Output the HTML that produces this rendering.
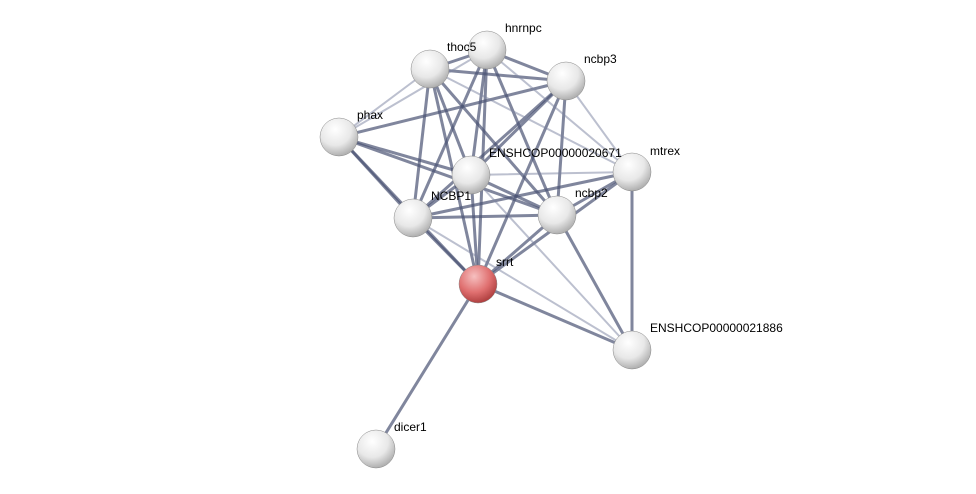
<!DOCTYPE html>
<html><head><meta charset="utf-8"><style>
html,body{margin:0;padding:0;background:#fff;}
svg{display:block;}
text{font-family:"Liberation Sans",sans-serif;font-size:12px;fill:#000;}
</style></head><body>
<svg width="976" height="494" viewBox="0 0 976 494" xmlns="http://www.w3.org/2000/svg">
<defs>
<radialGradient id="g" cx="40%" cy="30%" r="70%">
<stop offset="0" stop-color="#ffffff"/><stop offset="0.6" stop-color="#e8e8e8"/><stop offset="1" stop-color="#b0b0b0"/>
</radialGradient>
<radialGradient id="r" cx="40%" cy="30%" r="70%">
<stop offset="0" stop-color="#f6c0c0"/><stop offset="0.6" stop-color="#e07070"/><stop offset="1" stop-color="#b04040"/>
</radialGradient>
</defs>
<g stroke-linecap="round">
<g stroke="#4a5274" stroke-width="3" stroke-opacity="0.7">
<line x1="430" y1="69" x2="487" y2="50"/>
<line x1="430" y1="69" x2="566" y2="81"/>
<line x1="430" y1="69" x2="471" y2="175"/>
<line x1="430" y1="69" x2="413" y2="218"/>
<line x1="430" y1="69" x2="557" y2="215"/>
<line x1="430" y1="69" x2="478" y2="284"/>
<line x1="487" y1="50" x2="566" y2="81"/>
<line x1="487" y1="50" x2="471" y2="175"/>
<line x1="487" y1="50" x2="413" y2="218"/>
<line x1="487" y1="50" x2="557" y2="215"/>
<line x1="487" y1="50" x2="478" y2="284"/>
<line x1="566" y1="81" x2="471" y2="175"/>
<line x1="566" y1="81" x2="413" y2="218"/>
<line x1="566" y1="81" x2="557" y2="215"/>
<line x1="566" y1="81" x2="478" y2="284"/>
<line x1="566" y1="81" x2="339" y2="137"/>
<line x1="339" y1="137" x2="471" y2="175"/>
<line x1="339" y1="137" x2="413" y2="218"/>
<line x1="339" y1="137" x2="557" y2="215"/>
<line x1="339" y1="137" x2="478" y2="284"/>
<line x1="471" y1="175" x2="413" y2="218"/>
<line x1="471" y1="175" x2="557" y2="215"/>
<line x1="471" y1="175" x2="478" y2="284"/>
<line x1="413" y1="218" x2="557" y2="215"/>
<line x1="413" y1="218" x2="478" y2="284"/>
<line x1="557" y1="215" x2="478" y2="284"/>
<line x1="632" y1="172" x2="557" y2="215"/>
<line x1="632" y1="172" x2="632" y2="350"/>
<line x1="478" y1="284" x2="632" y2="350"/>
<line x1="557" y1="215" x2="632" y2="350"/>
<line x1="478" y1="284" x2="376" y2="449"/>
<line x1="632" y1="172" x2="413" y2="218"/>
<line x1="632" y1="172" x2="478" y2="284"/>
</g>
<g stroke="#7a82a0" stroke-width="2" stroke-opacity="0.5">
<line x1="430" y1="69" x2="339" y2="137"/>
<line x1="487" y1="50" x2="339" y2="137"/>
<line x1="430" y1="69" x2="632" y2="172"/>
<line x1="487" y1="50" x2="632" y2="172"/>
<line x1="566" y1="81" x2="632" y2="172"/>
<line x1="471" y1="175" x2="632" y2="172"/>
<line x1="413" y1="218" x2="632" y2="350"/>
<line x1="471" y1="175" x2="632" y2="350"/>
</g>
</g>
<g stroke="#888" stroke-width="0.5">
<circle cx="430" cy="69" r="19" fill="url(#g)"/>
<circle cx="487" cy="50" r="19" fill="url(#g)"/>
<circle cx="566" cy="81" r="19" fill="url(#g)"/>
<circle cx="339" cy="137" r="19" fill="url(#g)"/>
<circle cx="471" cy="175" r="19" fill="url(#g)"/>
<circle cx="632" cy="172" r="19" fill="url(#g)"/>
<circle cx="413" cy="218" r="19" fill="url(#g)"/>
<circle cx="557" cy="215" r="19" fill="url(#g)"/>
<circle cx="478" cy="284" r="19" fill="url(#r)"/>
<circle cx="632" cy="350" r="19" fill="url(#g)"/>
<circle cx="376" cy="449" r="19" fill="url(#g)"/>
</g>
<text x="447" y="51">thoc5</text>
<text x="505" y="32">hnrnpc</text>
<text x="584" y="63">ncbp3</text>
<text x="357" y="119">phax</text>
<text x="489" y="157">ENSHCOP00000020671</text>
<text x="650" y="155">mtrex</text>
<text x="431" y="200">NCBP1</text>
<text x="575" y="197">ncbp2</text>
<text x="496" y="266">srrt</text>
<text x="650" y="332">ENSHCOP00000021886</text>
<text x="394" y="431">dicer1</text>
</svg>
</body></html>
